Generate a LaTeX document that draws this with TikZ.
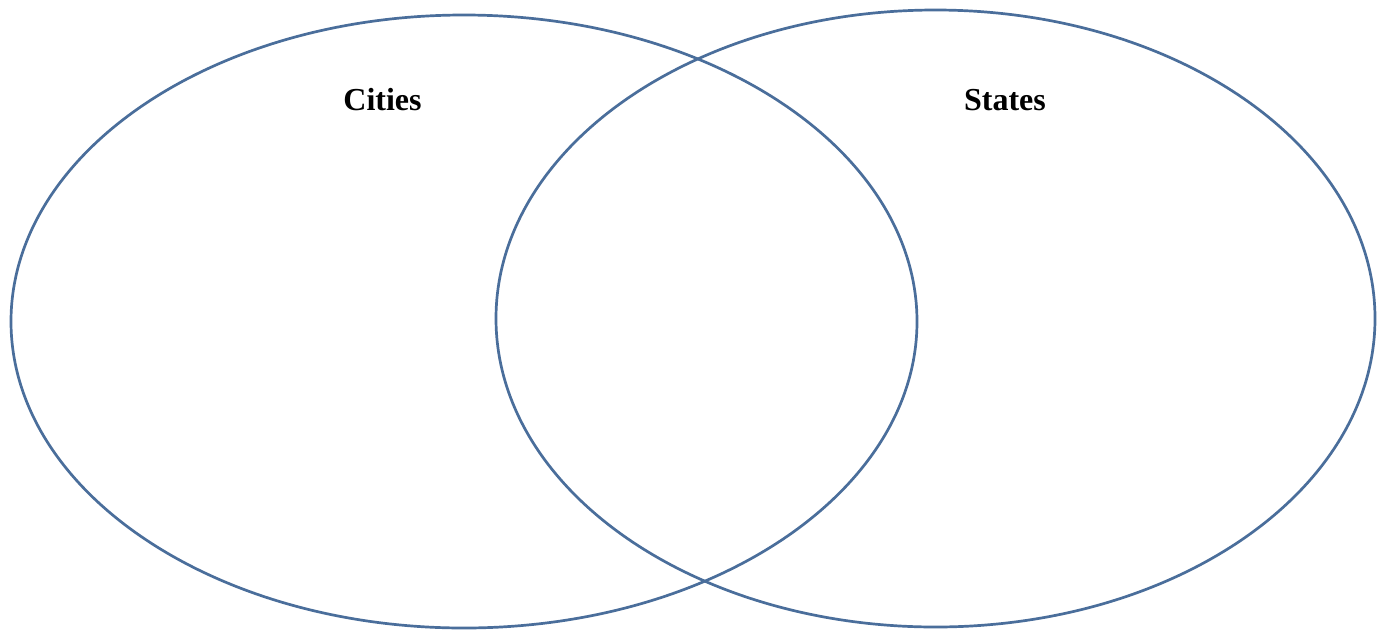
\documentclass[tikz,border=0pt]{standalone}
\usepackage{fontspec}
\setmainfont{Liberation Serif}
\definecolor{vennblue}{RGB}{74,110,155}
\tikzset{venn/.style={draw=vennblue,line width=2.7pt},
  lbl/.style={font=\fontsize{32}{37}\selectfont\bfseries,text=black,inner sep=0pt}}
\begin{document}
\begin{tikzpicture}[x=1pt,y=-1pt]
\useasboundingbox[fill=white] (0,0) rectangle (1389,633);
\draw[venn] (464,321.5) ellipse [x radius=453, y radius=306.5];
\draw[venn] (935.5,318.5) ellipse [x radius=439.5, y radius=308.5];
\node[lbl] (cities) at (382.5,100) {Cities};
\node[lbl] (states) at (1005,100) {States};
\end{tikzpicture}
\end{document}
